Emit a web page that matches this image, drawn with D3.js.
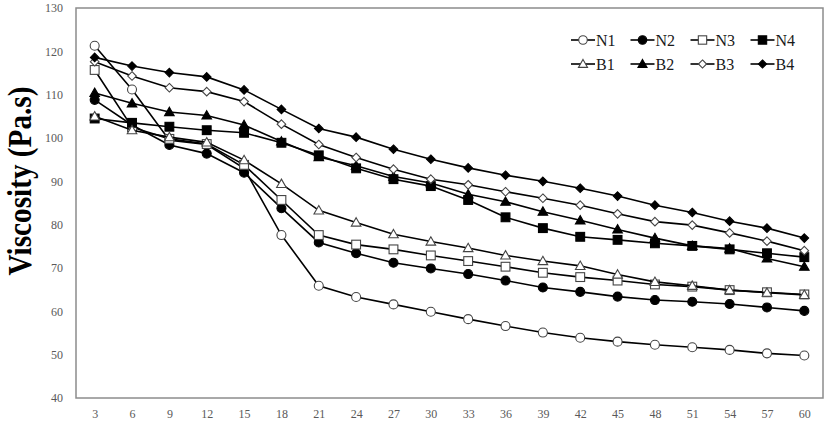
<!DOCTYPE html>
<html>
<head>
<meta charset="utf-8">
<script src="https://cdn.jsdelivr.net/npm/d3@7"></script>
<style>
html,body{margin:0;padding:0;background:#fff;}
svg{display:block;}
</style>
</head>
<body>
<svg id="chart" width="827" height="424"></svg>
<script>
const times = [3,6,9,12,15,18,21,24,27,30,33,36,39,42,45,48,51,54,57,60];
const yTicks = [40,50,60,70,80,90,100,110,120,130];
const seriesNames = ["N1","N2","N3","N4","B1","B2","B3","B4"];
const N1 = [121.3,111.2,99.5,98.5,93.0,77.6,65.9,63.3,61.6,59.9,58.2,56.6,55.1,53.9,53.0,52.3,51.7,51.1,50.3,49.8];
const N2 = [108.8,103.0,98.4,96.4,92.0,83.8,75.9,73.4,71.2,69.9,68.6,67.1,65.5,64.5,63.4,62.6,62.2,61.7,60.9,60.1];
const N3 = [115.7,102.5,99.8,98.6,93.8,85.7,77.6,75.4,74.3,72.9,71.6,70.3,68.9,67.9,67.1,66.2,65.7,64.9,64.4,63.9];
const N4 = [104.5,103.5,102.6,101.8,101.2,98.9,96.0,93.0,90.5,88.9,85.7,81.7,79.2,77.2,76.5,75.7,75.1,74.3,73.4,72.5];
const B1 = [105.0,101.8,100.2,99.0,94.9,89.4,83.3,80.5,77.8,76.1,74.6,72.9,71.6,70.5,68.5,66.8,65.9,64.9,64.3,63.8];
const B2 = [110.4,108.0,106.0,105.2,103.0,99.2,95.6,93.6,91.1,89.6,87.0,85.3,83.0,81.0,78.9,76.9,75.1,74.5,72.2,70.3];
const B3 = [117.6,114.3,111.6,110.7,108.4,103.2,98.5,95.5,92.8,90.5,89.2,87.6,86.1,84.5,82.5,80.7,79.9,78.1,76.2,74.0];
const B4 = [118.6,116.6,115.1,114.1,111.1,106.6,102.2,100.2,97.4,95.1,93.1,91.4,90.0,88.4,86.6,84.5,82.8,80.8,79.2,76.9];
const seriesValues = [N1,N2,N3,N4,B1,B2,B3,B4];
const markerShapes = ["circle","circle","square","square","triangle","triangle","diamond","diamond"];
const markerFilled = [false,true,false,true,false,true,false,true];

const svg = d3.select("#chart");
const pLeft = 76, pRight = 823, pTop = 8, pBottom = 398;

const x = d3.scalePoint().domain(times).range([pLeft, pRight]).padding(0.5);
const y = d3.scaleLinear().domain([40,130]).range([pBottom, pTop]);

// Frame
svg.append("rect")
  .attr("x", pLeft).attr("y", pTop)
  .attr("width", pRight-pLeft).attr("height", pBottom-pTop)
  .attr("fill", "none").attr("stroke", "#8c8c8c").attr("stroke-width", 1.5);

// Y axis
const yAxis = svg.append("g")
  .attr("transform", `translate(${pLeft},0)`)
  .call(d3.axisLeft(y).tickValues(yTicks).tickSize(0).tickPadding(13));
yAxis.select(".domain").remove();
yAxis.selectAll("text")
  .attr("font-family", "'Liberation Serif', 'Times New Roman', serif")
  .attr("font-size", 12).attr("fill", "#595959");

// X axis
const xAxis = svg.append("g")
  .attr("transform", `translate(0,${pBottom})`)
  .call(d3.axisBottom(x).tickSize(0).tickPadding(11));
xAxis.select(".domain").remove();
xAxis.selectAll("text")
  .attr("font-family", "'Liberation Serif', 'Times New Roman', serif")
  .attr("font-size", 12).attr("fill", "#595959");

// Y title
svg.append("text")
  .attr("transform", "translate(31,181) rotate(-90) scale(0.86,1)")
  .attr("text-anchor", "middle")
  .attr("font-family", "'Liberation Serif', 'Times New Roman', serif")
  .attr("font-weight", "bold")
  .attr("font-size", 34)
  .attr("fill", "#000")
  .text("Viscosity (Pa.s)");

function drawMarker(g, shape, filled, cx, cy, scale) {
  const s = scale || 1;
  const fill = filled ? "#000" : "#fff";
  const stroke = filled ? "#000" : "#444";
  let el;
  if (shape === "circle") {
    el = g.append("circle").attr("cx", cx).attr("cy", cy).attr("r", 4.5*s);
  } else if (shape === "square") {
    const h = 4.4*s;
    el = g.append("rect").attr("x", cx-h).attr("y", cy-h).attr("width", 2*h).attr("height", 2*h);
  } else if (shape === "triangle") {
    const h = 4.8*s;
    el = g.append("path").attr("d", `M${cx},${cy-h} L${cx+h},${cy+h*0.75} L${cx-h},${cy+h*0.75} Z`);
  } else {
    const h = 4.3*s;
    el = g.append("path").attr("d", `M${cx},${cy-h} L${cx+h},${cy} L${cx},${cy+h} L${cx-h},${cy} Z`);
  }
  el.attr("fill", fill).attr("stroke", stroke).attr("stroke-width", 1.1);
}

const line = d3.line().x((d,i) => x(times[i])).y(d => y(d));

seriesValues.forEach((vals, si) => {
  const g = svg.append("g").attr("class", "series-" + seriesNames[si]);
  g.append("path").datum(vals)
    .attr("d", line)
    .attr("fill", "none").attr("stroke", "#000").attr("stroke-width", 1.6);
  vals.forEach((v, i) => drawMarker(g, markerShapes[si], markerFilled[si], x(times[i]), y(v)));
});

// Legend
const legCols = [571, 630.5, 690.5, 750.5];
const legRows = [40, 64];
seriesNames.forEach((name, si) => {
  const lx = legCols[si % 4], ly = legRows[Math.floor(si / 4)];
  const g = svg.append("g");
  g.append("line").attr("x1", lx).attr("x2", lx+24).attr("y1", ly).attr("y2", ly)
    .attr("stroke", "#000").attr("stroke-width", 1.6);
  drawMarker(g, markerShapes[si], markerFilled[si], lx+12, ly, 0.95);
  g.append("text").attr("x", lx+25).attr("y", ly+5.5)
    .attr("font-family", "'Liberation Serif', 'Times New Roman', serif")
    .attr("font-size", 16).attr("fill", "#1a1a1a")
    .text(name);
});
</script>
</body>
</html>
